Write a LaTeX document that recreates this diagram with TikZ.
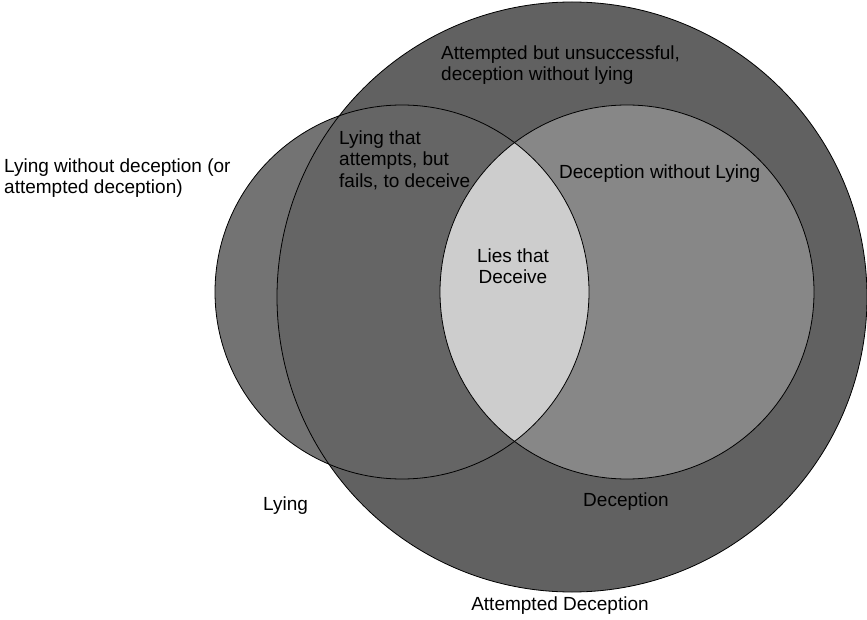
\documentclass[tikz,border=0pt]{standalone}
\usepackage{fontspec}
\setmainfont{Liberation Sans}
\usepackage{tikz}
\definecolor{ringGray}{HTML}{616161}
\definecolor{lieGray}{HTML}{737373}
\definecolor{lieRingGray}{HTML}{656565}
\definecolor{decGray}{HTML}{878787}
\definecolor{lensGray}{HTML}{CDCDCD}
\tikzstyle{setLine} = [draw=black, line width=0.8pt]
\tikzstyle{setLabel} = [inner sep=0pt, align=left, font=\fontsize{19}{21.5}\selectfont]

\begin{document}
\begin{tikzpicture}[x=1pt,y=-1pt]
			\useasboundingbox (0,0) rectangle (867,620);
			\coordinate (att) at (572,297);
			\coordinate (lie) at (402,292);
			\coordinate (dec) at (627,292);

			% 1st pass: fill the regions
			\fill[ringGray] (att) circle[radius=295pt];
			\fill[lieGray] (lie) circle[radius=187pt];
			\begin{scope}
				\clip (att) circle[radius=295pt];
				\fill[lieRingGray] (lie) circle[radius=187pt];
			\end{scope}
			\fill[decGray] (dec) circle[radius=187pt];
			\begin{scope}
				\clip (lie) circle[radius=187pt];
				\fill[lensGray] (dec) circle[radius=187pt];
			\end{scope}

			% 2nd pass: outlines on top
			\draw[setLine] (att) circle[radius=295pt];
			\draw[setLine] (lie) circle[radius=187pt];
			\draw[setLine] (dec) circle[radius=187pt];

			% labels
			\node[setLabel, anchor=west] (attFail) at (441,65) {Attempted but unsuccessful,\\deception without lying};
			\node[setLabel, anchor=west] (lieOnly) at (4,178) {Lying without deception (or\\attempted deception)};
			\node[setLabel, anchor=west] (lieFail) at (339,160) {Lying that\\attempts, but\\fails, to deceive};
			\node[setLabel, anchor=west] (decOnly) at (559,174) {Deception without Lying};
			\node[setLabel, align=center] (lens) at (513,266) {Lies that\\Deceive};
			\node[setLabel, anchor=west] (lieName) at (263,506) {Lying};
			\node[setLabel] (decName) at (626,502) {Deception};
			\node[setLabel] (attName) at (560,606) {Attempted Deception};
\end{tikzpicture}
\end{document}
